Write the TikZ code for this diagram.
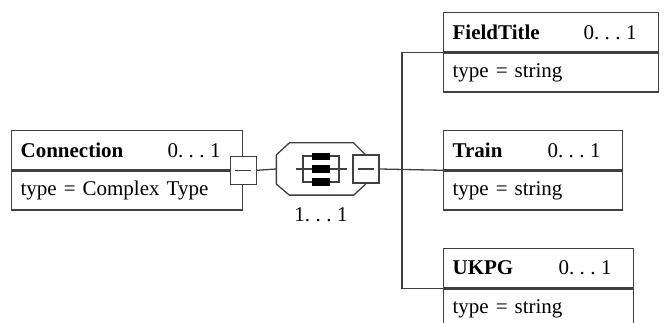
\documentclass[tikz,border=0pt]{standalone}
\usepackage{fontspec}
\setmainfont{Liberation Serif}
\usepackage{tikz}
\newcommand\multrange[2]{#1.\kern.26em.\kern.26em.\kern.26em#2}

\begin{document}
\begin{tikzpicture}[x=1pt,y=-1pt,line width=1.3pt,
  every node/.style={font=\fontsize{21}{25}\selectfont},
  field/.style={draw=black!75,anchor=north west,minimum height=39pt,inner xsep=9pt,inner ysep=0pt,align=left},
  minusbox/.style={draw=black!75,fill=white,minimum width=26pt,minimum height=28pt,inner sep=0pt,
    path picture={\draw[black!75] ([xshift=-8pt]path picture bounding box.center)--([xshift=8pt]path picture bounding box.center);}},
  compositor/.style={minimum width=88pt,minimum height=51pt,inner sep=0pt},
  conn/.style={draw=black!75}]
  \useasboundingbox (0,0) rectangle (664,323);
  \clip (0,0) rectangle (664,323);

  \node[field,text width=213pt] (connhead) at (11,130) {\textbf{Connection}\hfill\multrange01\kern13pt};
  \node[field,text width=213pt] (conntype) at (connhead.south west) {type = Complex Type};

  \node[field,text width=197pt] (fthead) at (443,12) {\textbf{FieldTitle}\hfill\multrange01\kern13pt};
  \node[field,text width=197pt] (fttype) at (fthead.south west) {type = string};
  \node[field,text width=161pt] (trainhead) at (443,130) {\textbf{Train}\hfill\multrange01\kern13pt};
  \node[field,text width=161pt] (traintype) at (trainhead.south west) {type = string};
  \node[field,text width=172pt] (ukpghead) at (443,248) {\textbf{UKPG}\hfill\multrange01\kern13pt};
  \node[field,text width=172pt] (ukpgtype) at (ukpghead.south west) {type = string};

  \node[compositor] (seq) at (321,169) {};
  \draw[black!75] ([xshift=13pt]seq.north west) -- ([xshift=-12pt]seq.north east)
    -- ([yshift=-12pt]seq.north east) -- ([yshift=11pt]seq.south east)
    -- ([xshift=-12pt]seq.south east) -- ([xshift=13pt]seq.south west)
    -- ([yshift=11pt]seq.south west) -- ([yshift=-12pt]seq.north west) -- cycle;
  \begin{scope}[shift={(seq.center)}]
    \draw[black!75] (-25,0) -- (26,0);
    \draw[black!75] (-18,-13) rectangle (18,13);
    \fill (-9,-16) rectangle (9,-9);
    \fill (-9,-4) rectangle (9,4);
    \fill (-9,9) rectangle (9,17);
  \end{scope}
  \node (seqcard) at ([yshift=-20pt]seq.south) {\multrange11};

  \node[minusbox] (connminus) at (connhead.south east) {};
  \node[minusbox] (seqminus) at (366,169) {};

  \coordinate (fork) at (402,169);
  \draw[conn] (connminus.east) -- (seq.west);
  \draw[conn] (seqminus.east) -- (trainhead.south west);
  \draw[conn] (fthead.south west) -| (fork) |- (ukpghead.south west);
\end{tikzpicture}
\end{document}
